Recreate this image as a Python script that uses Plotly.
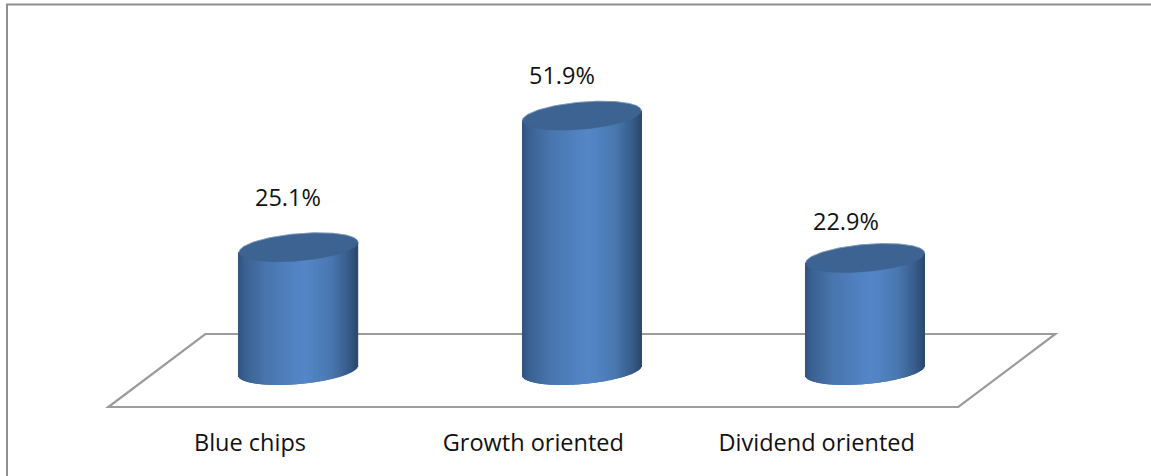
import numpy as np
import plotly.graph_objects as go

# Chart data
categories = ["Blue chips", "Growth oriented", "Dividend oriented"]
shares = [25.1, 51.9, 22.9]

# Hand-placed offsets of the percentage labels, in pixels from each category/value anchor
label_dx = [38, 29, 29]
label_dy = [50, 41, 37]

WIDTH, HEIGHT = 1151, 476
PLOT_BOTTOM = 412            # pixel row where the x axis sits
FLOOR_FRONT = 407            # pixel row of the front floor edge
PX_PER_CAT = 283.33          # horizontal pixels per category
PX_PER_UNIT = 4.91           # vertical pixels per percentage point
CAT0_PX = 250                # pixel column of the first category
DEPTH_X, DEPTH_Y = 97, 73    # floor depth projected to pixels
ZERO_PX = FLOOR_FRONT - DEPTH_Y / 2

# Cylinder shape in pixels
RADIUS = 59.5
CAP_B = 13.6
CAP_TILT = 5 / 60

# Horizontal shading stops across a cylinder (0 = left edge, 1 = right edge)
stop_pos = [0.0, 0.06, 0.22, 0.42, 0.56, 0.78, 0.92, 1.0]
stop_rgb = [
    (48, 82, 126), (58, 97, 146), (71, 116, 171), (79, 127, 189),
    (84, 134, 200), (73, 120, 176), (55, 93, 140), (43, 72, 108),
]


def px_x(px):
    return (px - CAT0_PX) / PX_PER_CAT


def px_y(px):
    return (ZERO_PX - px) / PX_PER_UNIT


def shade(t):
    return "rgb({:.0f},{:.0f},{:.0f})".format(
        *[np.interp(t, stop_pos, [c[i] for c in stop_rgb]) for i in range(3)]
    )


fig = go.Figure()

# Floor parallelogram as a shape, so it stays under the bar layer
fx0, fx1 = -0.5, 2.5
fdx = DEPTH_X / PX_PER_CAT
fy_front, fy_back = px_y(FLOOR_FRONT), px_y(FLOOR_FRONT - DEPTH_Y)
fig.add_shape(type="path", xref="x", yref="y", layer="below",
              path=(f"M {fx0} {fy_front} L {fx1} {fy_front} "
                    f"L {fx1 + fdx} {fy_back} L {fx0 + fdx} {fy_back} Z"),
              line=dict(color="#9c9c9c", width=2.2))

# Depth shift places each cylinder halfway back on the floor
center_shift = (DEPTH_X / 2) / PX_PER_CAT
offsets = np.arange(-RADIUS + 0.5, RADIUS, 1.0)
half = CAP_B * np.sqrt(1 - (offsets / RADIUS) ** 2)
slant = CAP_TILT * offsets

for i, value in enumerate(shares):
    # Cylinder body: one thin bar for each shading column
    bottom = (slant - half) / PX_PER_UNIT
    top = value + slant / PX_PER_UNIT
    fig.add_trace(go.Bar(
        x=i + center_shift + offsets / PX_PER_CAT,
        y=top - bottom,
        base=bottom,
        width=1.4 / PX_PER_CAT,
        marker=dict(color=[shade((o + RADIUS) / (2 * RADIUS)) for o in offsets],
                    line=dict(width=0)),
        hoverinfo="skip",
    ))
    # Top cap with a faint highlight on its upper rim
    t = np.linspace(0, 2 * np.pi, 181)
    cap_dx = RADIUS * np.cos(t)
    cap_dy = CAP_B * np.sin(t) + CAP_TILT * cap_dx
    cap_x = i + center_shift + cap_dx / PX_PER_CAT
    cap_y = value + cap_dy / PX_PER_UNIT
    fig.add_trace(go.Scatter(
        x=cap_x, y=cap_y,
        mode="lines", fill="toself", fillcolor="#3c6391",
        line=dict(color="#3c6391", width=0.6), hoverinfo="skip",
    ))
    fig.add_trace(go.Scatter(
        x=cap_x[:91], y=cap_y[:91], mode="lines",
        line=dict(color="rgba(150,175,205,0.7)", width=0.8), hoverinfo="skip",
    ))

for i, value in enumerate(shares):
    fig.add_annotation(x=i, y=value, text=f"{value}%", showarrow=False,
                       xshift=label_dx[i], yshift=label_dy[i],
                       font=dict(family="Open Sans", size=23.5, color="#111111"))

# Outer frame: left and top edges only
frame_x = 7 / WIDTH
frame_top = (PLOT_BOTTOM - 4.5) / PLOT_BOTTOM
frame_bottom = (PLOT_BOTTOM - HEIGHT) / PLOT_BOTTOM
fig.add_shape(type="path", xref="paper", yref="paper", layer="below",
              path=f"M {frame_x} {frame_bottom} L {frame_x} {frame_top} L 1 {frame_top}",
              line=dict(color="#8f8f8f", width=2))

fig.update_layout(
    width=WIDTH, height=HEIGHT,
    margin=dict(l=0, r=0, t=0, b=HEIGHT - PLOT_BOTTOM, pad=0),
    paper_bgcolor="white", plot_bgcolor="white",
    showlegend=False, barmode="overlay",
    xaxis=dict(range=[px_x(0), px_x(WIDTH)], tickmode="array", tickvals=[0, 1, 2],
               ticktext=categories, showgrid=False, zeroline=False, showline=False,
               ticks="outside", ticklen=10, tickcolor="rgba(0,0,0,0)",
               tickfont=dict(family="Open Sans", size=23.5, color="#111111")),
    yaxis=dict(range=[px_y(PLOT_BOTTOM), px_y(0)], visible=False),
)

fig.write_html("out.html")
